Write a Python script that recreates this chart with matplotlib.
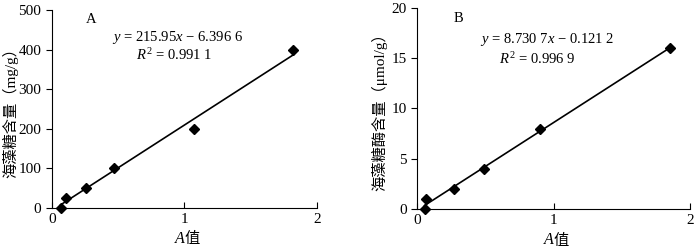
import matplotlib
matplotlib.use("Agg")
import matplotlib.pyplot as plt
import numpy as np

plt.rcParams['font.family'] = ['Liberation Serif', 'Noto Sans CJK SC']
plt.rcParams['mathtext.fontset'] = 'custom'
plt.rcParams['mathtext.rm'] = 'Liberation Serif'
plt.rcParams['mathtext.it'] = 'Liberation Serif:italic'

# Panel A data
xa = [0.066, 0.11, 0.255, 0.466, 1.075, 1.82]
ya = [0, 25, 50, 100, 200, 400]
slope_a, inter_a = 215.95, -6.3966
eq_a = "$y$ = 215.95$x$ \u2212 6.396 6"
r2_a = "$R^2$ = 0.991 1"
ylabel_a = "海藻糖含量（mg/g）"

# Panel B data
xb = [0.054, 0.068, 0.27, 0.49, 0.90, 1.85]
yb = [0, 1, 2, 4, 8, 16]
slope_b, inter_b = 8.7307, -0.1212
eq_b = "$y$ = 8.730 7$x$ \u2212 0.121 2"
r2_b = "$R^2$ = 0.996 9"
ylabel_b = "海藻糖酶含量（μmol/g）"

xlabel_var = "A"
xlabel_cn = "值"

fig = plt.figure(figsize=(7, 2.5), dpi=100)
ax1 = fig.add_axes([0.074, 0.168, 0.379, 0.792])
ax2 = fig.add_axes([0.596, 0.164, 0.390, 0.804])

def draw(ax, x, y, slope, inter, eq, r2, ylabel, ymax, yticks, label, lpos, eqpos, r2pos, lpad):
    xs = np.array([min(x), max(x)])
    ax.plot(xs, slope * xs + inter, color='black', lw=1.2)
    ax.plot(x, y, 'D', color='black', ms=5, clip_on=False, zorder=3)
    ax.set_xlim(0, 2)
    ax.set_ylim(0, ymax)
    ax.set_xticks([0, 1, 2])
    ax.set_yticks(yticks)
    ax.spines['top'].set_visible(False)
    ax.spines['right'].set_visible(False)
    ax.tick_params(axis='x', direction='in', length=4, labelsize=11)
    ax.tick_params(axis='y', direction='out', length=4, labelsize=11)
    ax.text(0.5, -0.155, xlabel_var, transform=ax.transAxes, fontsize=11.5,
            style='italic', family='Liberation Serif', ha='right', va='center')
    ax.text(0.5, -0.155, xlabel_cn, transform=ax.transAxes, fontsize=11,
            family='Noto Sans CJK SC', ha='left', va='center')
    ax.set_ylabel(ylabel, fontsize=11, labelpad=lpad)
    ax.text(lpos[0], lpos[1], label, fontsize=10.5, ha='left', va='center')
    ax.text(eqpos[0], eqpos[1], eq, fontsize=10.5, ha='center', va='center')
    ax.text(r2pos[0], r2pos[1], r2, fontsize=10.5, ha='center', va='center')

draw(ax1, xa, ya, slope_a, inter_a, eq_a, r2_a, ylabel_a, 500, [0, 100, 200, 300, 400, 500],
     "A", (0.26, 475), (0.95, 430), (0.92, 385), 0)
draw(ax2, xb, yb, slope_b, inter_b, eq_b, r2_b, ylabel_b, 20, [0, 5, 10, 15, 20],
     "B", (0.27, 19.0), (0.95, 16.9), (0.88, 14.9), 3)

fig.savefig("out.png", dpi=100)
